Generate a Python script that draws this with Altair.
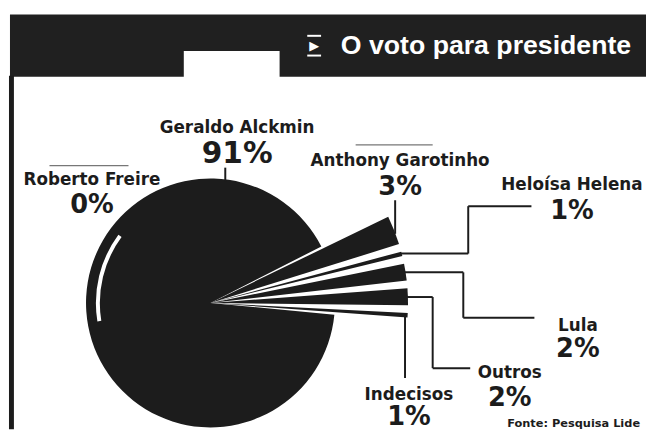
import math
import altair as alt
import pandas as pd

# ---- chart values ----
NOMES = ["Anthony Garotinho", "Heloísa Helena", "Lula", "Outros",
         "Indecisos", "Roberto Freire", "Geraldo Alckmin"]
PCT = [3, 1, 2, 2, 1, 0, 91]
TITULO = "O voto para presidente"
FONTE = "Fonte: Pesquisa Lide"

# ---- layout (chart pixel coordinates, not data) ----
W, H = 646, 424
CX, CY = 205, 296          # pie centre
R_MAIN, R_SPIKE = 126, 200
START = math.radians(63)
BLACK = "#1c1c1c"
FONT = "DejaVu Sans"

# label anchor: centre x, name baseline, percentage baseline
LABEL_POS = {
    "Geraldo Alckmin": (232, 124, 154),
    "Roberto Freire": (85, 177, 205),
    "Anthony Garotinho": (397, 157, 187),
    "Heloísa Helena": (571, 182, 211),
    "Lula": (577, 324, 351),
    "Outros": (508, 372, 400),
    "Indecisos": (406, 394, 420),
}
PCT_SIZE = {"Geraldo Alckmin": 30}

LEADERS = [  # x, y, x2, y2
    (220, 159, 220, 173),
    (392, 192, 392, 226),
    (397, 246, 466, 246), (466, 246, 466, 198), (466, 198, 530, 198),
    (401, 265, 461, 265), (461, 265, 461, 311), (461, 311, 533, 311),
    (403, 290, 430, 290), (430, 290, 430, 362), (430, 362, 468, 362),
    (402, 308, 402, 372),
]
OVERLINES = [(42, 157, 122, 157), (352, 136, 430, 136)]

pie_df = pd.DataFrame({"nome": NOMES, "pct": PCT, "ordem": list(range(len(NOMES)))})

lab_rows = []
for n, p in zip(NOMES, PCT):
    x, yn, yp = LABEL_POS[n]
    lab_rows.append({"nome": n, "pcttxt": f"{p}%", "x": x, "yn": yn, "yp": yp,
                     "size": PCT_SIZE.get(n, 26)})
lab_df = pd.DataFrame(lab_rows)

seg_df = pd.DataFrame(LEADERS, columns=["x", "y", "x2", "y2"])
over_df = pd.DataFrame(OVERLINES, columns=["x", "y", "x2", "y2"])
one = pd.DataFrame({"a": [0]})

theta = alt.Theta("pct:Q", stack=True,
                  scale=alt.Scale(range=[START, START + 2 * math.pi]))
order = alt.Order("ordem:Q", sort="ascending")
is_main = alt.datum.nome == "Geraldo Alckmin"

header = alt.Chart(one).mark_rect(color="#202020").encode(
    x=alt.value(2), x2=alt.value(W), y=alt.value(4), y2=alt.value(67))
notch = alt.Chart(one).mark_rect(color="white").encode(
    x=alt.value(178), x2=alt.value(275), y=alt.value(41), y2=alt.value(68))
border = alt.Chart(one).mark_rule(color=BLACK, strokeWidth=5).encode(
    x=alt.value(3.5), y=alt.value(66), y2=alt.value(H))
title = alt.Chart(one).mark_text(
    text=TITULO, font="Liberation Sans", fontWeight="bold", fontSize=27,
    color="white", align="left", baseline="alphabetic"
).encode(x=alt.value(337), y=alt.value(44))
icon = alt.Chart(one).mark_text(
    text="▶", font=FONT, fontSize=13, color="white",
    align="center", baseline="middle").encode(x=alt.value(310), y=alt.value(36))
icon_bars = alt.Chart(pd.DataFrame({"y": [25.5, 45.5]})).mark_rule(
    color="white", strokeWidth=2).encode(
    x=alt.value(303), x2=alt.value(317), y=alt.Y("y:Q", scale=None, axis=None))

main = alt.Chart(pie_df).mark_arc(radius=R_MAIN).encode(
    theta=theta, order=order,
    color=alt.condition(is_main, alt.value(BLACK), alt.value("transparent")),
    x=alt.value(CX), y=alt.value(CY))
spikes = alt.Chart(pie_df).mark_arc(radius=R_SPIKE, padAngle=0.04).encode(
    theta=theta, order=order,
    color=alt.condition(is_main, alt.value("transparent"), alt.value(BLACK)),
    x=alt.value(CX), y=alt.value(CY))
sliver = alt.Chart(one).mark_arc(
    radius=116, radius2=112, theta=4.55, theta2=5.35, color="white"
).encode(x=alt.value(CX), y=alt.value(CY))

leaders = alt.Chart(seg_df).mark_rule(color=BLACK, strokeWidth=2).encode(
    x=alt.X("x:Q", scale=None, axis=None), x2="x2:Q",
    y=alt.Y("y:Q", scale=None, axis=None), y2="y2:Q")
overlines = alt.Chart(over_df).mark_rule(color="#777777", strokeWidth=1.2).encode(
    x=alt.X("x:Q", scale=None, axis=None), x2="x2:Q",
    y=alt.Y("y:Q", scale=None, axis=None), y2="y2:Q")

names = alt.Chart(lab_df).mark_text(
    font=FONT, fontWeight="bold", fontSize=17, color=BLACK,
    align="center", baseline="alphabetic").encode(
    x=alt.X("x:Q", scale=None, axis=None),
    y=alt.Y("yn:Q", scale=None, axis=None), text="nome:N")
pcts = alt.Chart(lab_df).mark_text(
    font=FONT, fontWeight="bold", color=BLACK,
    align="center", baseline="alphabetic").encode(
    x=alt.X("x:Q", scale=None, axis=None),
    y=alt.Y("yp:Q", scale=None, axis=None), text="pcttxt:N",
    size=alt.Size("size:Q", scale=None, legend=None))
fonte = alt.Chart(one).mark_text(
    text=FONTE, font=FONT, fontWeight="bold", fontSize=11.5, color=BLACK,
    align="right", baseline="alphabetic").encode(x=alt.value(640), y=alt.value(422))

chart = alt.layer(
    header, notch, border, title, icon, icon_bars,
    main, spikes, sliver, leaders, overlines, names, pcts, fonte
).properties(width=W, height=H, padding=0, autosize="none",
             background="white").configure_view(stroke=None)

chart.save("out.html", embed_options={"renderer": "svg", "actions": False})
